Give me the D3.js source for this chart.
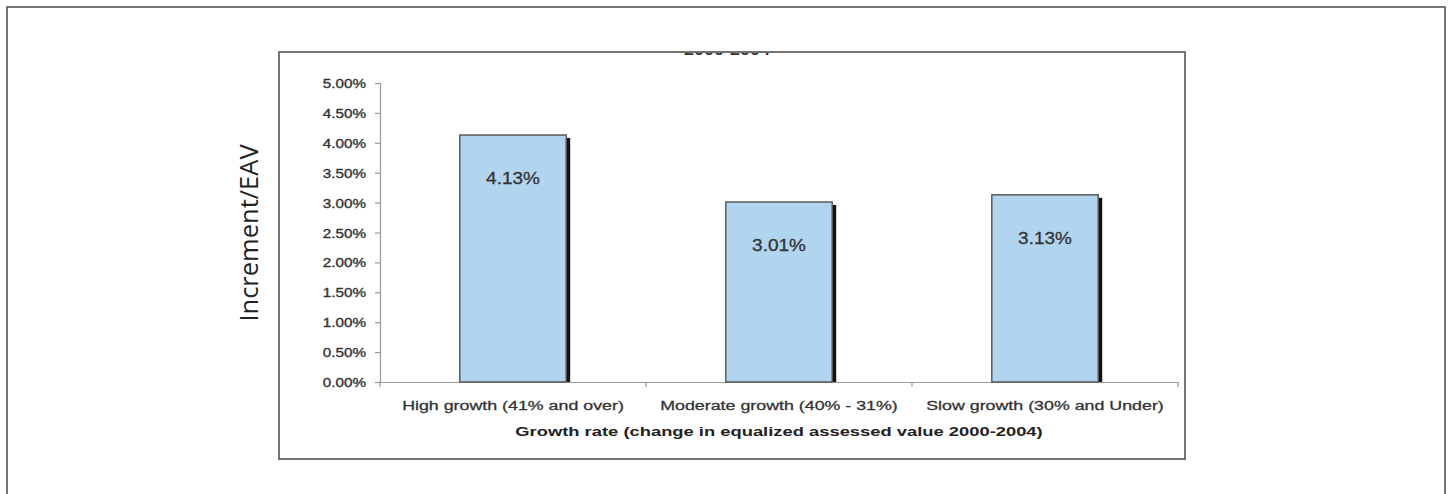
<!DOCTYPE html>
<html>
<head>
<meta charset="utf-8">
<script src="https://cdn.jsdelivr.net/npm/d3@7"></script>
<style>
  html, body { margin: 0; padding: 0; background: #fff; }
  svg { display: block; }
</style>
</head>
<body>
<svg id="chart" width="1449" height="494"></svg>
<script>
// Increment as a share of EAV, by growth-rate group
const categories = [
  "High growth (41% and over)",
  "Moderate growth (40% - 31%)",
  "Slow growth (30% and Under)"
];
const values = [4.13, 3.01, 3.13];
const yTicks = [0, 0.5, 1, 1.5, 2, 2.5, 3, 3.5, 4, 4.5, 5];
const chartTitle = "2000-2004";
const xTitle = "Growth rate (change in equalized assessed value 2000-2004)";
const yTitle = "Increment/EAV";

const svg = d3.select("#chart");
const sans = "'Liberation Sans', Arial, sans-serif";

// outer page frame
svg.append("rect")
  .attr("x", 7).attr("y", 7).attr("width", 1438).attr("height", 500)
  .attr("fill", "none").attr("stroke", "#4a4a4a").attr("stroke-width", 1.5);

// plot area
const plot = { left: 380, right: 1178, top: 83, bottom: 382 };

const x = d3.scaleBand()
  .domain(categories)
  .range([plot.left, plot.right])
  .paddingInner(0.6)
  .paddingOuter(0.3);

const band = d3.scaleBand().domain(categories).range([plot.left, plot.right]);

const y = d3.scaleLinear().domain([0, 5]).range([plot.bottom, plot.top]);

// title, mostly hidden behind the chart frame
svg.append("clipPath").attr("id", "titleClip")
  .append("rect").attr("x", 600).attr("y", 52.8).attr("width", 250).attr("height", 10);
svg.append("g")
  .attr("clip-path", "url(#titleClip)")
  .append("g").attr("transform", "translate(727,54.8) scale(1.2,1)")
  .append("text")
  .attr("text-anchor", "middle")
  .attr("font-family", sans).attr("font-weight", "bold").attr("font-size", 15)
  .attr("fill", "#333")
  .text(chartTitle);

// chart frame
svg.append("rect")
  .attr("x", 279).attr("y", 52).attr("width", 906).attr("height", 407)
  .attr("fill", "none").attr("stroke", "#4a4a4a").attr("stroke-width", 1.5);

// y axis
const yAxis = d3.axisLeft(y)
  .tickValues(yTicks)
  .tickSize(5)
  .tickFormat(d => d3.format(".2f")(d) + "%");
const gy = svg.append("g").attr("transform", `translate(${plot.left},0)`).call(yAxis);
gy.select(".domain").attr("stroke", "#9a9a9a").attr("stroke-width", 1.2);
gy.selectAll(".tick line").attr("stroke", "#9a9a9a").attr("stroke-width", 1.2);
gy.selectAll(".tick text").remove();
gy.selectAll(".tick").append("g")
  .attr("transform", "translate(-14,4.5) scale(1.22,1)")
  .append("text")
  .attr("text-anchor", "end")
  .attr("font-family", sans).attr("font-size", 12.5)
  .attr("fill", "#333").attr("stroke", "#333").attr("stroke-width", 0.35)
  .text(d => d3.format(".2f")(d) + "%");

// x axis
const xAxis = d3.axisBottom(band).tickSize(0).tickFormat("");
const gx = svg.append("g").attr("transform", `translate(0,${plot.bottom})`).call(xAxis);
gx.select(".domain").attr("stroke", "#9a9a9a").attr("stroke-width", 1.2);
gx.selectAll(".tick").remove();
// category separators
const seps = categories.map(c => band(c)).concat([plot.right]);
gx.selectAll("line.sep").data(seps).join("line")
  .attr("class", "sep")
  .attr("x1", d => d).attr("x2", d => d)
  .attr("y1", 0).attr("y2", 5)
  .attr("stroke", "#9a9a9a").attr("stroke-width", 1.2);

// category labels
svg.selectAll("g.cat").data(categories).join("g")
  .attr("class", "cat")
  .attr("transform", d => `translate(${band(d) + band.bandwidth() / 2},410) scale(1.32,1)`)
  .append("text")
  .attr("text-anchor", "middle")
  .attr("font-family", sans).attr("font-size", 13.5)
  .attr("fill", "#333").attr("stroke", "#333").attr("stroke-width", 0.3)
  .text(d => d);

// x axis title
svg.append("g")
  .attr("transform", `translate(${(plot.left + plot.right) / 2},436) scale(1.36,1)`)
  .append("text")
  .attr("text-anchor", "middle")
  .attr("font-family", sans).attr("font-weight", "bold").attr("font-size", 13.5)
  .attr("fill", "#222")
  .text(xTitle);

// y axis title
svg.append("text")
  .attr("transform", "translate(258,233) rotate(-90)")
  .attr("text-anchor", "middle")
  .attr("font-family", "'Open Sans', 'Noto Sans', sans-serif").attr("font-size", 25.5)
  .attr("fill", "#222")
  .text(yTitle);

// bars with drop shadow
const data = categories.map((c, i) => ({ c, v: values[i] }));
const bars = svg.selectAll("g.bar").data(data).join("g").attr("class", "bar");
bars.append("rect")
  .attr("x", d => x(d.c) + 4)
  .attr("y", d => y(d.v) + 3)
  .attr("width", x.bandwidth())
  .attr("height", d => plot.bottom - y(d.v) - 3)
  .attr("fill", "#111");
bars.append("rect")
  .attr("x", d => x(d.c))
  .attr("y", d => y(d.v))
  .attr("width", x.bandwidth())
  .attr("height", d => plot.bottom - y(d.v))
  .attr("fill", "#b1d5ef")
  .attr("stroke", "#5a5a5a").attr("stroke-width", 1.5);
bars.append("g")
  .attr("transform", d => `translate(${x(d.c) + x.bandwidth() / 2},${y(d.v) + 49}) scale(1.15,1)`)
  .append("text")
  .attr("text-anchor", "middle")
  .attr("font-family", sans).attr("font-size", 16.5)
  .attr("fill", "#333").attr("stroke", "#333").attr("stroke-width", 0.3)
  .text(d => d3.format(".2f")(d.v) + "%");
</script>
</body>
</html>
